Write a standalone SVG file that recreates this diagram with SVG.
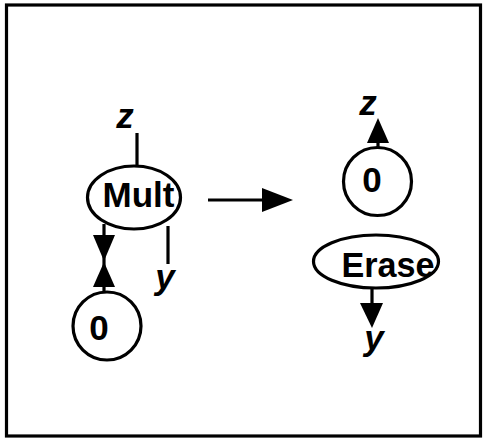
<svg xmlns="http://www.w3.org/2000/svg" width="484" height="438" viewBox="0 0 484 438">
<style>
.ln{stroke:#000;stroke-width:3.2;fill:none}
.nd{stroke:#000;stroke-width:3.2;fill:#fff}
.lbl{font-family:"Liberation Sans",Arial,sans-serif;font-size:35px;font-weight:bold;fill:#000}
.var{font-family:"Liberation Sans",Arial,sans-serif;font-size:35px;font-style:italic;font-weight:bold;fill:#000;text-anchor:middle}
.ah{fill:#000;stroke:none}
</style>
<rect x="6.5" y="5" width="474" height="431" fill="#fff" stroke="#000" stroke-width="3.2"/>
<g id="connectors">
  <line class="ln" x1="137" y1="133" x2="137" y2="166"/>
  <line class="ln" x1="104" y1="224" x2="104" y2="292"/>
  <polygon class="ah" points="93,235 115,235 104,261"/>
  <polygon class="ah" points="104,262 93,287 115,287"/>
  <line class="ln" x1="168" y1="226" x2="168" y2="264"/>
  <line class="ln" x1="208" y1="200" x2="264" y2="200"/>
  <polygon class="ah" points="262,188 293,200 262,212"/>
  <line class="ln" x1="378" y1="141" x2="378" y2="148"/>
  <polygon class="ah" points="378,118 367,143 389,143"/>
  <line class="ln" x1="372" y1="287" x2="372" y2="305"/>
  <polygon class="ah" points="360,303 383,303 372,328"/>
</g>
<g id="node-mult">
  <ellipse class="nd" cx="134" cy="197.5" rx="46.5" ry="31.5"/>
  <text class="lbl" x="102.5" y="206.5" textLength="72" lengthAdjust="spacingAndGlyphs">Mult</text>
</g>
<g id="node-zero-left">
  <circle class="nd" cx="107" cy="326" r="34"/>
  <text class="lbl" x="99" y="340" text-anchor="middle">0</text>
</g>
<g id="node-zero-right">
  <circle class="nd" cx="377.5" cy="181.5" r="34"/>
  <text class="lbl" x="372" y="192" text-anchor="middle">0</text>
</g>
<g id="node-erase">
  <ellipse class="nd" cx="376" cy="261.5" rx="62.5" ry="26.5"/>
  <text class="lbl" x="341.5" y="276.5" textLength="93" lengthAdjust="spacingAndGlyphs">Erase</text>
</g>
<g id="labels">
  <text class="var" x="125" y="128">z</text>
  <text class="var" x="165" y="289">y</text>
  <text class="var" x="368" y="115">z</text>
  <text class="var" x="374" y="350">y</text>
</g>
</svg>
